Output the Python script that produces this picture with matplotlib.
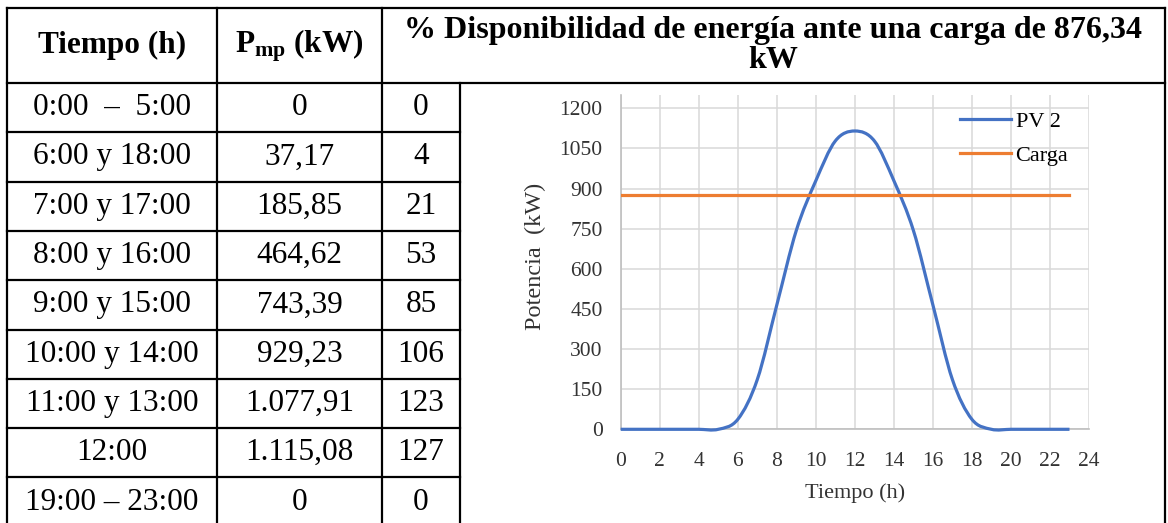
import numpy as np
import matplotlib
matplotlib.use("Agg")
import matplotlib.pyplot as plt
from matplotlib.path import Path
from matplotlib.patches import PathPatch
from matplotlib.lines import Line2D

plt.rcParams['font.family'] = ['Liberation Serif', 'DejaVu Serif']
plt.rcParams['mathtext.fontset'] = 'custom'
plt.rcParams['mathtext.rm'] = 'Liberation Serif'
plt.rcParams['mathtext.bf'] = 'Liberation Serif:bold'

# table contents
periodos = ['0:00  –  5:00', '6:00 y 18:00', '7:00 y 17:00', '8:00 y 16:00',
            '9:00 y 15:00', '10:00 y 14:00', '11:00 y 13:00', '12:00',
            '19:00 – 23:00']
pmp_txt = ['0', '37,17', '185,85', '464,62', '743,39', '929,23',
           '1.077,91', '1.115,08', '0']
disp_pct = ['0', '4', '21', '53', '85', '106', '123', '127', '0']

# hourly series for the curve
horas = np.arange(24)
pv2 = [0, 0, 0, 0, 0, 0, 37.17, 185.85, 464.62, 743.39, 929.23, 1077.91,
       1115.08, 1077.91, 929.23, 743.39, 464.62, 185.85, 37.17,
       0, 0, 0, 0, 0]
carga = 876.34

W, H = 1168, 523
fig = plt.figure(figsize=(W / 100, H / 100), dpi=100)

# ---------- table grid (pixel coordinates) ----------
tab = fig.add_axes([0, 0, 1, 1])
tab.set_xlim(0, W)
tab.set_ylim(H, 0)
tab.axis('off')

cols = [7, 217, 382, 460, 1165]
top, head_bot = 8, 83
rows = head_bot + 49.3 * np.arange(10)
lw = 1.6
k = dict(color='black', lw=lw, solid_capstyle='projecting')

tab.plot([cols[0], cols[-1]], [top, top], **k)
tab.plot([cols[0], cols[-1]], [head_bot, head_bot], **k)
tab.plot([cols[0], cols[-1]], [rows[-1], rows[-1]], **k)
for y in rows[1:-1]:
    tab.plot([cols[0], cols[3]], [y, y], **k)
for x in [cols[0], cols[1], cols[2], cols[4]]:
    tab.plot([x, x], [top, rows[-1]], **k)
tab.plot([cols[3], cols[3]], [head_bot, rows[-1]], **k)

fs = 22.5
hy = (top + head_bot) / 2
tab.text((cols[0] + cols[1]) / 2, hy, 'Tiempo (h)', ha='center', va='center',
         fontsize=fs, fontweight='bold')
tab.text((cols[1] + cols[2]) / 2, hy, r'$\mathbf{P_{mp}}$ (kW)', ha='center',
         va='center', fontsize=fs, fontweight='bold')
tab.text((cols[2] + cols[4]) / 2, hy,
         '% Disponibilidad de energía ante una carga de 876,34\nkW',
         ha='center', va='center', fontsize=23, fontweight='bold',
         linespacing=1.05)

for i in range(len(periodos)):
    yc = (rows[i] + rows[i + 1]) / 2
    tab.text((cols[0] + cols[1]) / 2, yc, periodos[i], ha='center',
             va='center', fontsize=fs)
    tab.text((cols[1] + cols[2]) / 2, yc, pmp_txt[i], ha='center',
             va='center', fontsize=fs)
    tab.text((cols[2] + cols[3]) / 2, yc, disp_pct[i], ha='center',
             va='center', fontsize=fs)

# ---------- chart inside the table ----------
azul = '#4472C4'
naranja = '#ED7D31'
ax = fig.add_axes([620.7 / W, (H - 429.3) / H, 468.3 / W, 334.4 / H])
ax.set_xlim(0, 24)
ax.set_ylim(0, 1250)
ax.set_xticks(np.arange(0, 25, 2))
ax.set_yticks(np.arange(0, 1201, 150))
ax.grid(True, color='#d9d9d9', lw=1.1)
ax.set_axisbelow(True)
for s in ['top', 'right']:
    ax.spines[s].set_visible(False)
for s in ['left', 'bottom']:
    ax.spines[s].set_color('#bfbfbf')
    ax.spines[s].set_linewidth(1.2)
ax.tick_params(length=0, labelsize=15.5, labelcolor='#333333')
ax.tick_params(axis='y', pad=13)
ax.tick_params(axis='x', pad=16)

# smoothed line (bezier through the hourly points)
pts = np.column_stack([horas, pv2]).astype(float)
verts = [pts[0]]
codes = [Path.MOVETO]
n = len(pts)
for i in range(n - 1):
    p0 = pts[max(i - 1, 0)]
    p1 = pts[i]
    p2 = pts[i + 1]
    p3 = pts[min(i + 2, n - 1)]
    verts += [p1 + (p2 - p0) / 6, p2 - (p3 - p1) / 6, p2]
    codes += [Path.CURVE4] * 3
ax.add_patch(PathPatch(Path(verts, codes), facecolor='none',
                       edgecolor=azul, lw=2.3, clip_on=False, zorder=3))
ax.plot(horas, np.full(len(horas), carga), color=naranja, lw=2.3, zorder=3)

ax.set_xlabel('Tiempo (h)', fontsize=16, color='#333333')
ax.xaxis.set_label_coords(0.5, -0.16)
ax.set_ylabel('Potencia  (kW)', fontsize=17.5, color='#333333')
ax.yaxis.set_label_coords(-0.16, 0.518)

handles = [Line2D([], [], color=azul, lw=2.3),
           Line2D([], [], color=naranja, lw=2.3)]
ax.legend(handles, ['PV 2', 'Carga'], loc='upper left',
          bbox_to_anchor=(0.7245, 0.95), frameon=False, fontsize=16,
          handlelength=2.3, handletextpad=0.2, labelspacing=0.6,
          borderpad=0, borderaxespad=0)

fig.savefig('out.png', dpi=100)
